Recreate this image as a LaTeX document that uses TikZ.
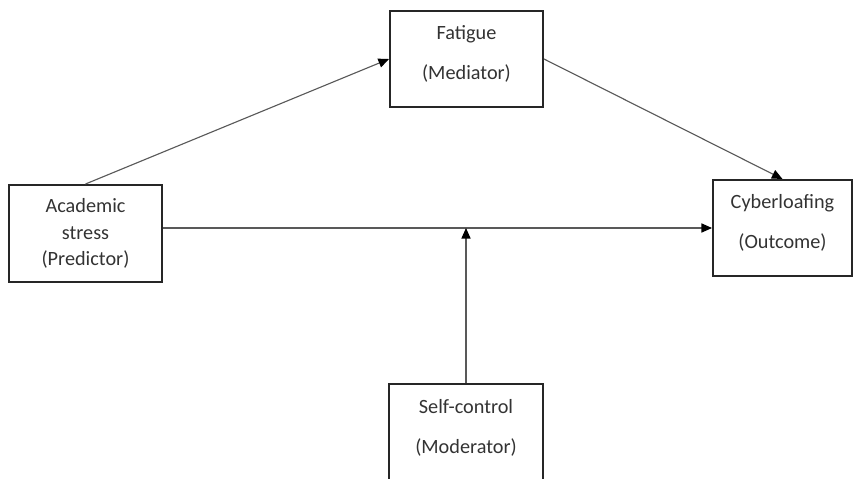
\documentclass[tikz,border=0pt]{standalone}
\usepackage{fontspec}
\setmainfont{Carlito}
\usetikzlibrary{arrows.meta}
\begin{document}
\begin{tikzpicture}[x=0.025cm,y=-0.025cm,
  box/.style={draw=black!85, line width=1.4pt, minimum width=3.825cm, minimum height=2.4cm,
    align=center, inner sep=0pt, text=black!80, font=\fontsize{14.4}{17}\selectfont},
  link/.style={draw=black!65, line width=0.8pt, -{Triangle[length=7.5pt,width=6.5pt,color=black]}}]
  \useasboundingbox (0,0) rectangle (856,479);
       \node[box] (fatigue) at (466.5,59) {Fatigue\\[12pt](Mediator)\\[-7.8pt]};
       \node[box, minimum height=2.425cm] (stress) at (85.5,233.5) {Academic\\[2pt]stress\\[2pt](Predictor)};
       \node[box, minimum width=3.475cm] (cyber) at (782.5,228) {Cyberloafing\\[12pt](Outcome)\\[-7.8pt]};
       \node[box, minimum height=2.6cm] (selfctrl) at (466,436) {Self-control\\[12pt](Moderator)\\[-3.5pt]};
       \coordinate (mod) at (selfctrl.north |- cyber.west);
       \draw[link] (stress.north) -- (fatigue.west);
       \draw[link] (fatigue.east) -- (cyber.north);
       \draw[link] (cyber.west -| stress.east) -- (cyber.west);
       \draw[link] (selfctrl.north) -- (mod);
      \end{tikzpicture}
\end{document}
